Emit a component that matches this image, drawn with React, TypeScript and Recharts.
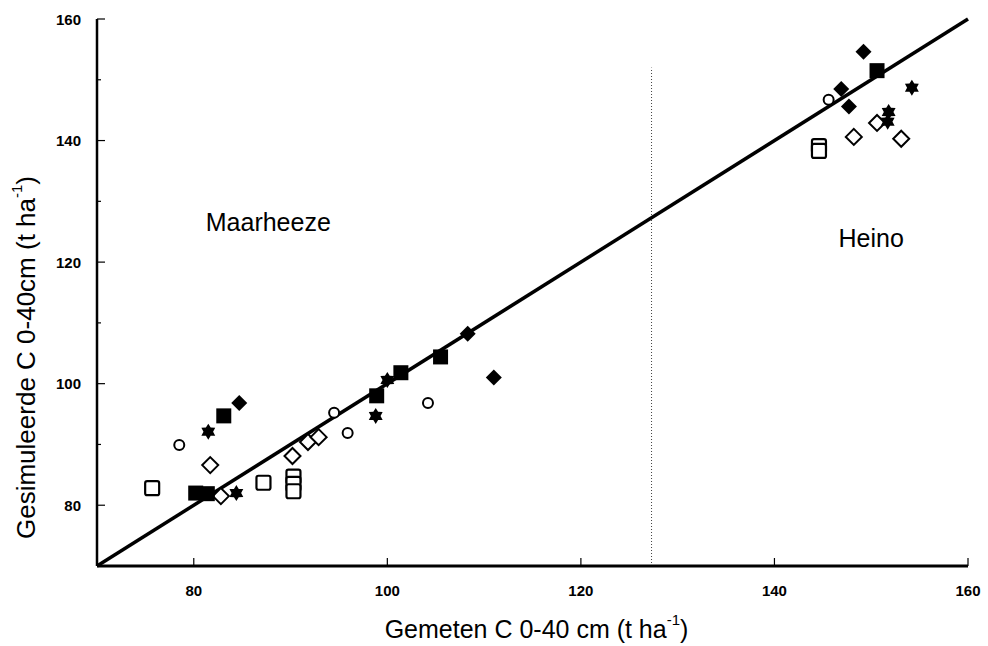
import React from "react"
import { Label, ReferenceLine, Scatter, ScatterChart, XAxis, YAxis } from "recharts"

type Pt = { x: number; y: number }

// measured vs simulated C stock (t/ha), grouped by marker type
const filledDiamonds: Pt[] = [
  { x: 84.7, y: 96.8 },
  { x: 108.3, y: 108.2 },
  { x: 111.0, y: 101.0 },
  { x: 149.2, y: 154.6 },
  { x: 146.9, y: 148.5 },
  { x: 147.7, y: 145.6 },
]

const filledSquares: Pt[] = [
  { x: 83.1, y: 94.7 },
  { x: 80.2, y: 82.0 },
  { x: 81.4, y: 81.9 },
  { x: 98.9, y: 98.0 },
  { x: 101.4, y: 101.8 },
  { x: 105.5, y: 104.4 },
  { x: 150.6, y: 151.5 },
]

const filledStars: Pt[] = [
  { x: 81.5, y: 92.1 },
  { x: 84.4, y: 82.0 },
  { x: 100.0, y: 100.6 },
  { x: 98.8, y: 94.7 },
  { x: 154.2, y: 148.7 },
  { x: 151.8, y: 144.7 },
  { x: 151.7, y: 143.1 },
]

const openCircles: Pt[] = [
  { x: 78.5, y: 89.9 },
  { x: 94.5, y: 95.2 },
  { x: 95.9, y: 91.9 },
  { x: 104.2, y: 96.8 },
  { x: 145.6, y: 146.7 },
]

const openDiamonds: Pt[] = [
  { x: 81.7, y: 86.6 },
  { x: 82.8, y: 81.5 },
  { x: 90.2, y: 88.1 },
  { x: 91.8, y: 90.4 },
  { x: 92.9, y: 91.2 },
  { x: 150.6, y: 142.9 },
  { x: 148.2, y: 140.6 },
  { x: 153.1, y: 140.3 },
]

const openSquares: Pt[] = [
  { x: 75.7, y: 82.8 },
  { x: 87.2, y: 83.7 },
  { x: 90.3, y: 84.7 },
  { x: 90.3, y: 83.5 },
  { x: 90.3, y: 82.3 },
  { x: 144.6, y: 139.1 },
  { x: 144.6, y: 138.3 },
]

const siteLabels = [
  { x: 87.7, y: 126.6, name: "Maarheeze" },
  { x: 150.0, y: 124.0, name: "Heino" },
]

const xTicks = [80, 100, 120, 140, 160]
const yTicks = [80, 90, 100, 110, 120, 130, 140, 150, 160]
const siteDivider = 127.3
const dividerTop = 152

const FONT = "'Liberation Sans', Arial, sans-serif"

function starPoints(cx: number, cy: number, ro: number, ri: number) {
  const pts: string[] = []
  for (let i = 0; i < 12; i++) {
    const r = i % 2 === 0 ? ro : ri
    const a = (Math.PI / 6) * i - Math.PI / 2
    pts.push(`${cx + r * Math.cos(a)},${cy + r * Math.sin(a)}`)
  }
  return pts.join(" ")
}

function marker(kind: string) {
  return (props: any) => {
    const { cx, cy } = props
    switch (kind) {
      case "filledDiamond":
        return <polygon points={`${cx},${cy - 8} ${cx + 8},${cy} ${cx},${cy + 8} ${cx - 8},${cy}`} fill="#000" />
      case "openDiamond":
        return (
          <polygon
            points={`${cx},${cy - 8} ${cx + 8},${cy} ${cx},${cy + 8} ${cx - 8},${cy}`}
            fill="#fff"
            stroke="#000"
            strokeWidth={2}
          />
        )
      case "filledSquare":
        return <rect x={cx - 7.5} y={cy - 7.5} width={15} height={15} fill="#000" />
      case "openSquare":
        return (
          <rect x={cx - 7} y={cy - 7} width={14} height={14} rx={2} fill="#fff" stroke="#000" strokeWidth={2.2} />
        )
      case "openCircle":
        return <circle cx={cx} cy={cy} r={5} fill="#fff" stroke="#000" strokeWidth={2} />
      case "filledStar":
        return <polygon points={starPoints(cx, cy, 8, 4.8)} fill="#000" />
      default:
        return <g />
    }
  }
}

function siteText(props: any) {
  const { cx, cy, payload } = props
  return (
    <text x={cx} y={cy} textAnchor="middle" dominantBaseline="central" fontFamily={FONT} fontSize={25} fill="#000">
      {payload.name}
    </text>
  )
}

function XTick(props: any) {
  const { x, y, payload } = props
  return (
    <g>
      <line x1={x} y1={y} x2={x} y2={y - 8} stroke="#000" strokeWidth={1.2} />
      <text x={x} y={y + 24} textAnchor="middle" dominantBaseline="central" fontFamily={FONT} fontWeight="bold" fontSize={15} fill="#000">
        {payload.value}
      </text>
    </g>
  )
}

function YTick(props: any) {
  const { x, y, payload } = props
  const major = payload.value % 20 === 0
  return (
    <g>
      <line x1={x} y1={y} x2={x + (major ? 8 : 4)} y2={y} stroke="#000" strokeWidth={1.2} />
      {major && (
        <text x={x - 16} y={y} textAnchor="end" dominantBaseline="central" fontFamily={FONT} fontWeight="bold" fontSize={15} fill="#000">
          {payload.value}
        </text>
      )}
    </g>
  )
}

function XTitle(props: any) {
  const { viewBox } = props
  return (
    <text x={viewBox.x + viewBox.width / 2 + 4} y={viewBox.y + 63} textAnchor="middle" dominantBaseline="central" fontFamily={FONT} fontSize={25} fill="#000">
      Gemeten C 0-40 cm (t ha
      <tspan dy={-10} fontSize={15}>-1</tspan>
      <tspan dy={10}>)</tspan>
    </text>
  )
}

function YTitle(props: any) {
  const { viewBox } = props
  const cx = viewBox.x + 26
  const cy = viewBox.y + viewBox.height / 2 + 65
  return (
    <text transform={`translate(${cx},${cy}) rotate(-90)`} textAnchor="middle" dominantBaseline="central" fontFamily={FONT} fontSize={26} fill="#000">
      Gesimuleerde C 0-40cm (t ha
      <tspan dy={-10} fontSize={15}>-1</tspan>
      <tspan dy={10}>)</tspan>
    </text>
  )
}

export default function App() {
  return (
    <div style={{ position: "absolute", left: 0, top: 0, width: 988, height: 646, background: "#fff" }}>
      <ScatterChart width={988} height={646} margin={{ top: 19, right: 20, bottom: 0, left: 0 }}>
        <XAxis
          type="number"
          dataKey="x"
          domain={[70, 160]}
          ticks={xTicks}
          allowDataOverflow
          height={80}
          tickSize={0}
          tickMargin={0}
          tickLine={false}
          tick={<XTick />}
          axisLine={{ stroke: "#000", strokeWidth: 3 }}
        >
          <Label content={<XTitle />} />
        </XAxis>
        <YAxis
          type="number"
          dataKey="y"
          domain={[70, 160]}
          ticks={yTicks}
          allowDataOverflow
          width={97}
          tickSize={0}
          tickMargin={0}
          tickLine={false}
          tick={<YTick />}
          axisLine={{ stroke: "#000", strokeWidth: 2.5 }}
        >
          <Label content={<YTitle />} />
        </YAxis>

        {/* boundary between the two sites */}
        <ReferenceLine
          segment={[
            { x: siteDivider, y: 70 },
            { x: siteDivider, y: dividerTop },
          ]}
          stroke="#444"
          strokeWidth={1}
          strokeDasharray="1 2"
        />

        <Scatter data={openSquares} shape={marker("openSquare")} isAnimationActive={false} />
        <Scatter data={openDiamonds} shape={marker("openDiamond")} isAnimationActive={false} />
        <Scatter data={openCircles} shape={marker("openCircle")} isAnimationActive={false} />
        <Scatter data={filledDiamonds} shape={marker("filledDiamond")} isAnimationActive={false} />
        <Scatter data={filledSquares} shape={marker("filledSquare")} isAnimationActive={false} />
        <Scatter data={filledStars} shape={marker("filledStar")} isAnimationActive={false} />
        <Scatter data={siteLabels} shape={siteText} isAnimationActive={false} />

        {/* 1:1 line */}
        <ReferenceLine
          segment={[
            { x: 70, y: 70 },
            { x: 160, y: 160 },
          ]}
          stroke="#000"
          strokeWidth={3.5}
        />
      </ScatterChart>
    </div>
  )
}
